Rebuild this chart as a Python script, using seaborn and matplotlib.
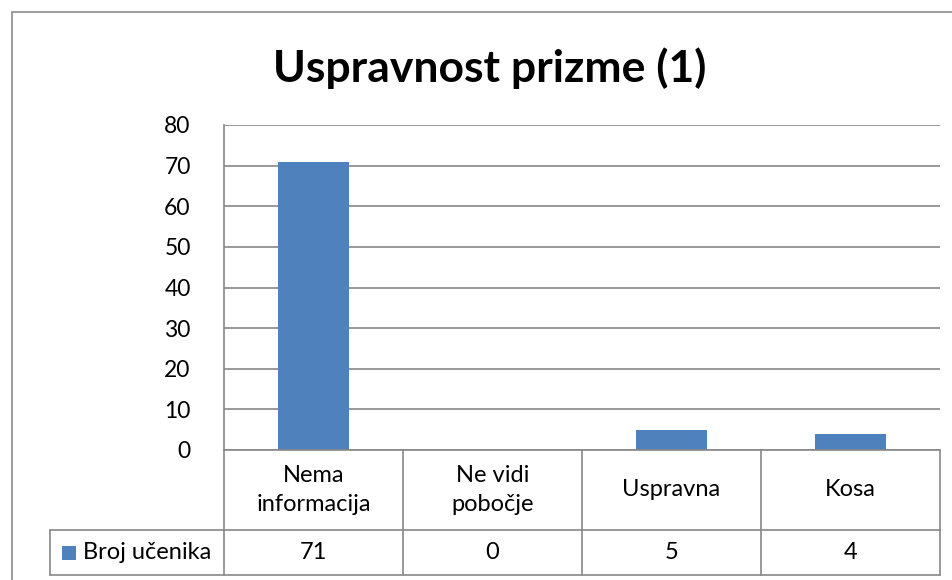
import matplotlib
matplotlib.use("Agg")
import matplotlib.pyplot as plt
from matplotlib.patches import Rectangle
from matplotlib.lines import Line2D
import numpy as np
import pandas as pd
import seaborn as sns

# data
categories = ["Nema\ninformacija", "Ne vidi\npobočje", "Uspravna", "Kosa"]
values = [71, 0, 5, 4]
series_name = "Broj učenika"
title = "Uspravnost prizme (1)"
yticks = [0, 10, 20, 30, 40, 50, 60, 70, 80]

blue = "#4F81BD"
grid_col = "#878787"

sns.set_theme(style="white")
plt.rcParams["font.family"] = ["Lato", "DejaVu Sans"]

W, H = 953, 580
fig = plt.figure(figsize=(W / 100, H / 100), dpi=100)


def fx(px):
    return px / W


def fy(py):
    return 1 - py / H


# plot area in pixels
left, right, top, bottom = 224, 940, 125, 450
ax = fig.add_axes([fx(left), fy(bottom), fx(right) - fx(left), fy(top) - fy(bottom)])

df = pd.DataFrame({"cat": categories, "val": values})
sns.barplot(data=df, x="cat", y="val", color=blue, width=0.4, saturation=1,
            edgecolor="none", ax=ax, zorder=3)

ax.set_xlim(-0.5, len(categories) - 0.5)
ax.set_ylim(0, 80)
ax.set_yticks(yticks)
ax.set_yticklabels([str(t) for t in yticks], fontsize=16.5, color="black")
ax.set_xticks([])
ax.set_xlabel("")
ax.set_ylabel("")
ax.tick_params(axis="y", length=0, pad=24)
ax.yaxis.grid(True, color=grid_col, linewidth=1.2, zorder=0)
ax.set_axisbelow(True)
for s in ["top", "right", "bottom"]:
    ax.spines[s].set_visible(False)
ax.spines["left"].set_color(grid_col)
ax.spines["left"].set_linewidth(1.2)

fig.text(fx(490), fy(68), title, ha="center", va="center",
         fontsize=32, fontweight="bold", color="black")

# data table under the axis
fig.canvas.draw()
to_px = lambda xd: (ax.transData.transform((xd, 0))[0])
bounds = [to_px(i - 0.5) / W for i in range(len(categories) + 1)]
row1, row2, row3 = fy(450), fy(530), fy(575)
leg_left = fx(50)

lines = []
lines.append(((bounds[0], bounds[-1]), (row1, row1)))
lines.append(((leg_left, bounds[-1]), (row2, row2)))
lines.append(((leg_left, bounds[-1]), (row3, row3)))
lines.append(((leg_left, leg_left), (row2, row3)))
lines.append(((bounds[0], bounds[0]), (row1, row3)))
for b in bounds[1:]:
    lines.append(((b, b), (row1, row3)))
for xs, ys in lines:
    fig.add_artist(Line2D(xs, ys, color=grid_col, linewidth=1.2))

for i, (c, v) in enumerate(zip(categories, values)):
    cx = (bounds[i] + bounds[i + 1]) / 2
    fig.text(cx, (row1 + row2) / 2, c, ha="center", va="center",
             fontsize=17, color="black", linespacing=1.45)
    fig.text(cx, (row2 + row3) / 2, str(v), ha="center", va="center",
             fontsize=17, color="black")

fig.add_artist(Rectangle((fx(62), fy(560)), fx(76) - fx(62), fy(546) - fy(560),
                         facecolor=blue, edgecolor="none"))
fig.text(fx(83), (row2 + row3) / 2, series_name, ha="left", va="center",
         fontsize=17, color="black")

# outer chart border
fig.add_artist(Rectangle((fx(12), fy(600)), fx(1000) - fx(12), fy(12) - fy(600),
                         facecolor="none", edgecolor="#8C8C8C", linewidth=1.2))

fig.savefig("out.png", dpi=100)
